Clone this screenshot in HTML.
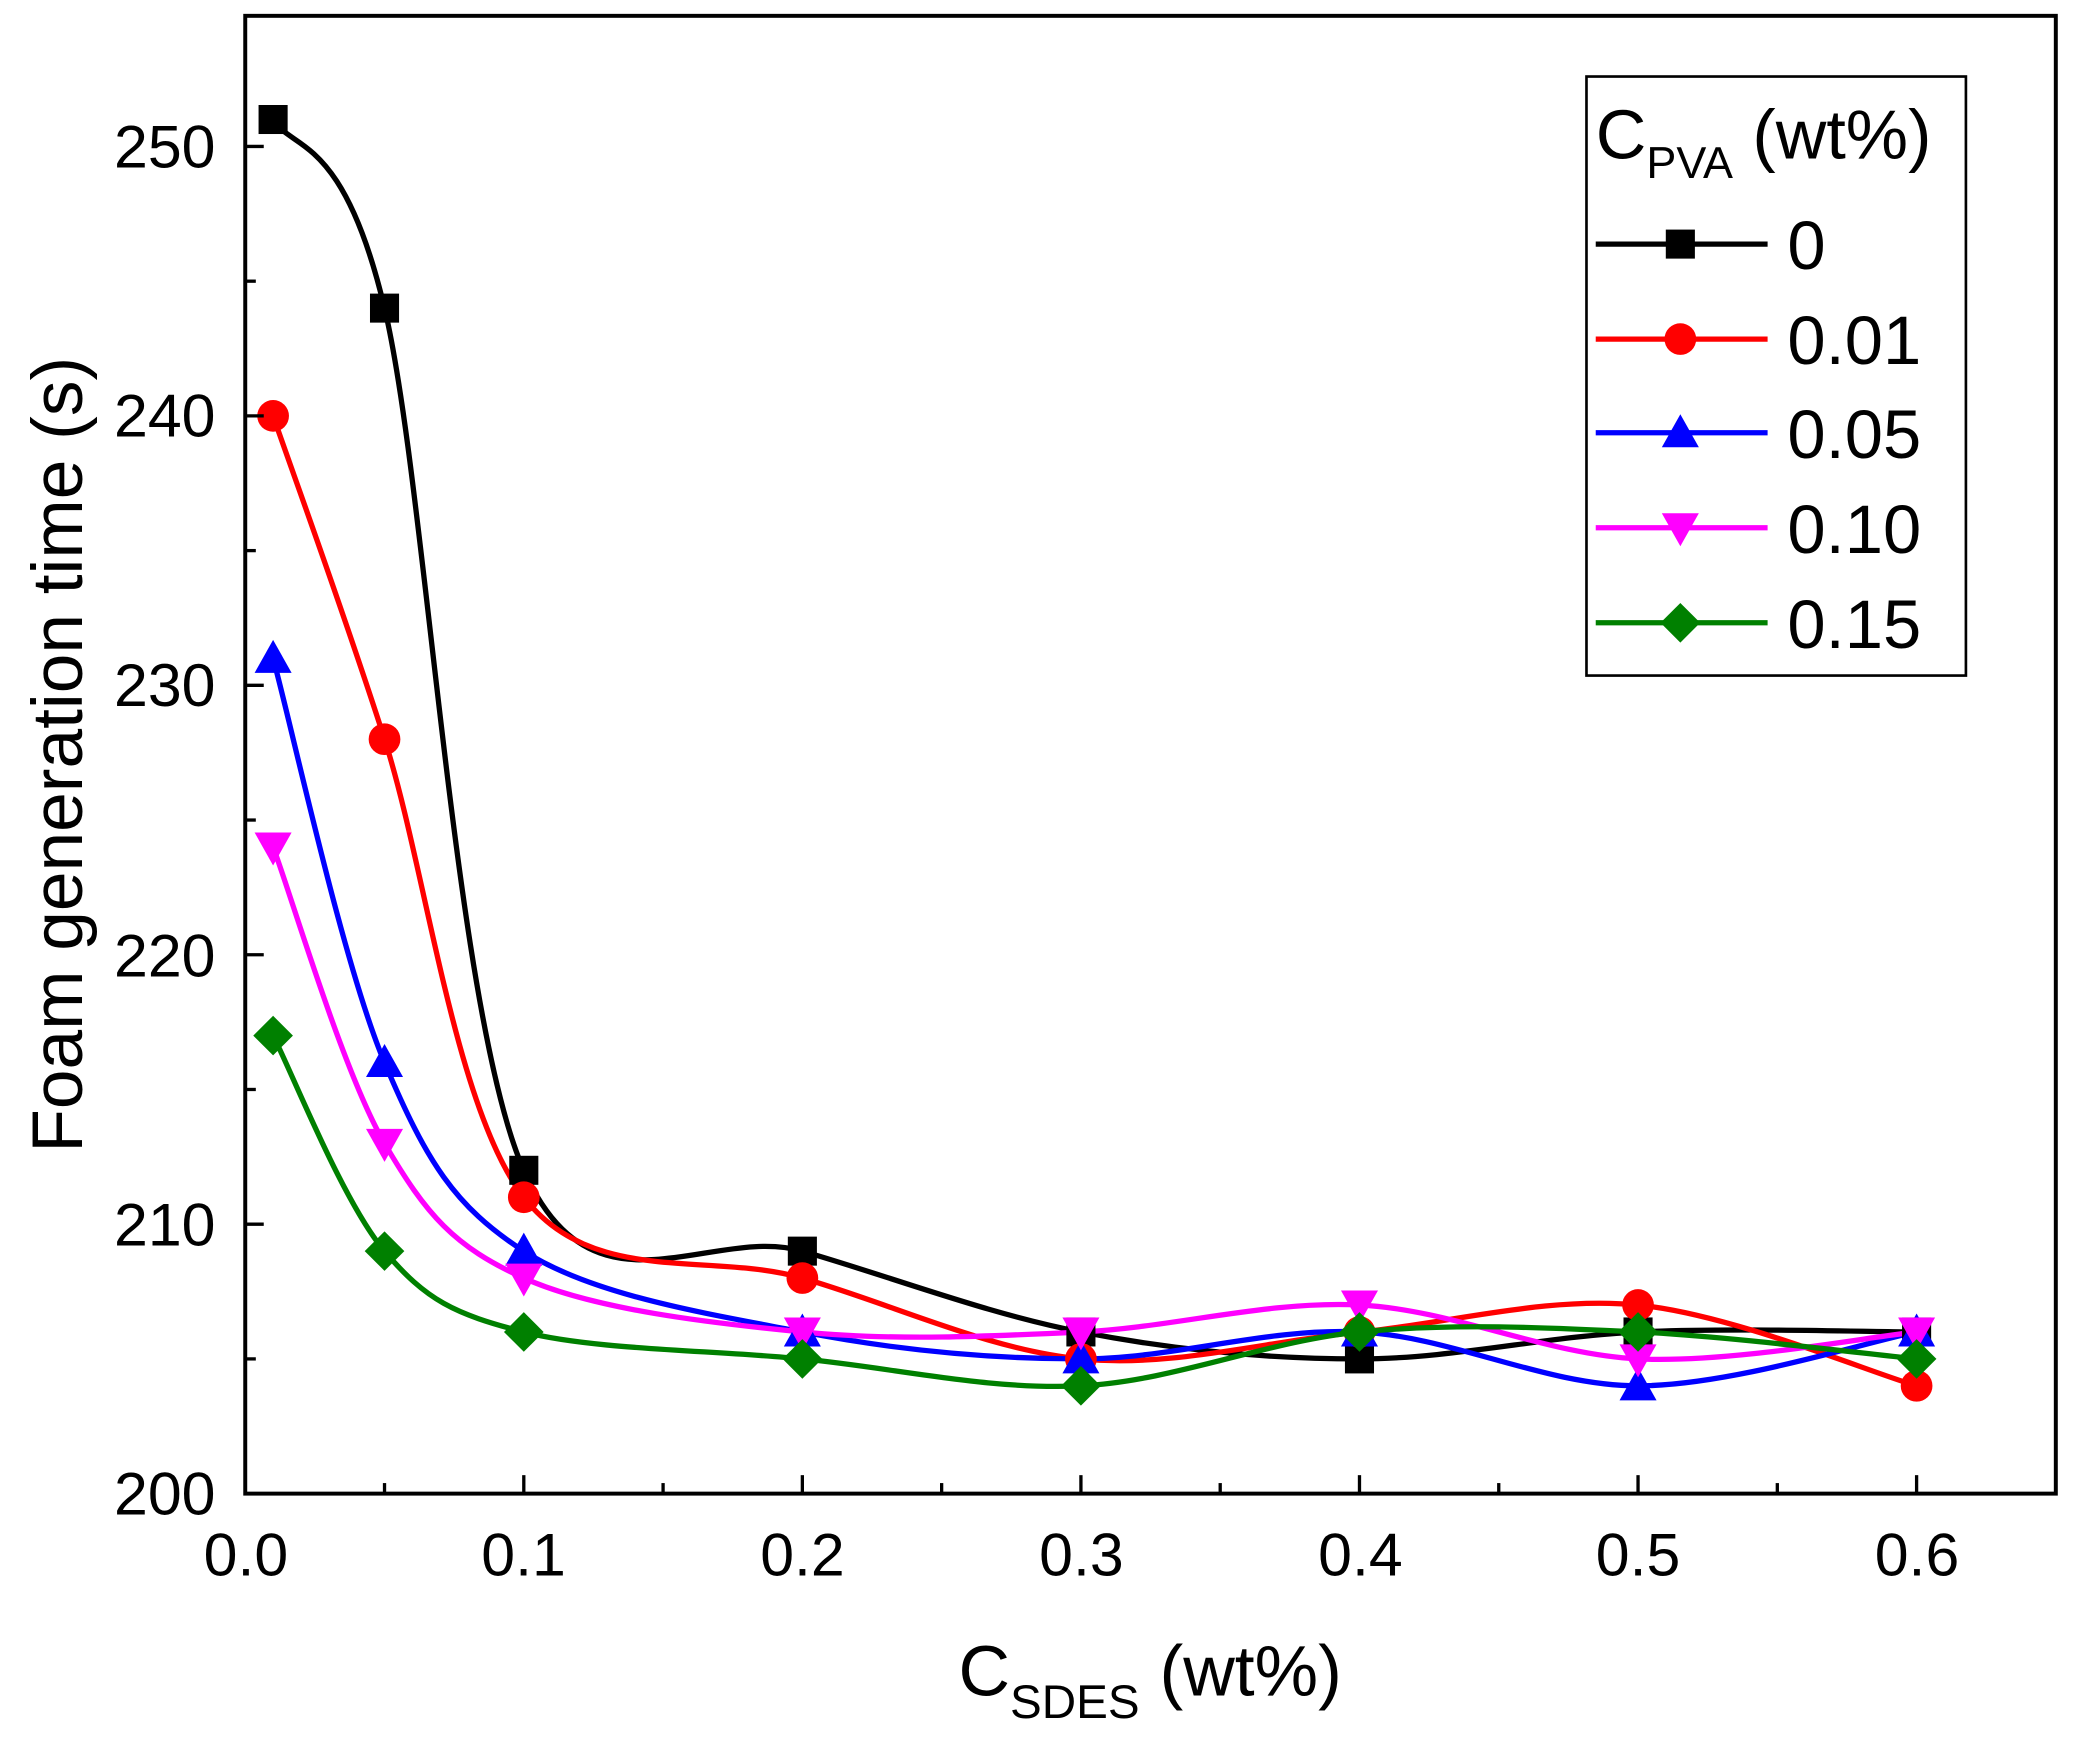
<!DOCTYPE html>
<html><head><meta charset="utf-8">
<style>html,body{margin:0;padding:0;background:#fff}svg{display:block}</style>
</head><body>
<svg id="c" width="2073" height="1743" viewBox="0 0 1568 1321" preserveAspectRatio="none" xmlns="http://www.w3.org/2000/svg" font-family="Liberation Sans, Arial, sans-serif">
<rect x="0" y="0" width="1568" height="1321" fill="#fff"/>
<g id="plot"></g>
<rect x="185.5" y="12" width="1369.5" height="1120" fill="none" stroke="#000" stroke-width="3"/>
<g id="ticks" stroke="#000" stroke-width="2.5"></g>
<g font-size="46" fill="#000" text-anchor="middle">
<text x="186" y="1194">0.0</text><text x="396" y="1194">0.1</text><text x="607" y="1194">0.2</text><text x="818" y="1194">0.3</text><text x="1029" y="1194">0.4</text><text x="1239" y="1194">0.5</text><text x="1450" y="1194">0.6</text>
</g>
<g font-size="46" fill="#000" text-anchor="end">
<text x="163" y="1148">200</text><text x="163" y="944">210</text><text x="163" y="740">220</text><text x="163" y="535">230</text><text x="163" y="331">240</text><text x="163" y="127">250</text>
</g>
<text transform="translate(62,572) rotate(-90)" font-size="54" text-anchor="middle">Foam generation time (s)</text>
<text x="870" y="1285" font-size="54" text-anchor="middle">C<tspan font-size="36" dy="17">SDES</tspan><tspan dy="-17"> (wt%)</tspan></text>
<rect x="1200" y="58" width="287" height="454" fill="#fff" stroke="#000" stroke-width="2"/>
<text x="1207" y="120" font-size="53">C<tspan font-size="34" dy="15">PVA</tspan><tspan dy="-15"> (wt%)</tspan></text>
<g id="legend"></g>
</svg>
<script>
const X=v=>185.5+v*2107, Y=v=>1132-(v-200)*20.42;
const xs=[0.01,0.05,0.1,0.2,0.3,0.4,0.5,0.6];
const S=[
 ["#000","sq",[251,244,212,209,206,205,206,206],"0"],
 ["#f00","ci",[240,228,211,208,205,206,207,204],"0.01"],
 ["#00f","tu",[231,216,209,206,205,206,204,206],"0.05"],
 ["#f0f","td",[224,213,208,206,206,207,205,206],"0.10"],
 ["#008000","di",[217,209,206,205,204,206,206,205],"0.15"]];
function mk(t,x,y,c){
 if(t=="sq")return `<rect x="${x-11}" y="${y-11}" width="22" height="22" fill="${c}"/>`;
 if(t=="ci")return `<circle cx="${x}" cy="${y}" r="12" fill="${c}"/>`;
 if(t=="tu")return `<polygon points="${x},${y-14} ${x-14},${y+11} ${x+14},${y+11}" fill="${c}"/>`;
 if(t=="td")return `<polygon points="${x},${y+14} ${x-14},${y-11} ${x+14},${y-11}" fill="${c}"/>`;
 return `<polygon points="${x},${y-15} ${x+15},${y} ${x},${y+15} ${x-15},${y}" fill="${c}"/>`;
}
let h="";
for(const [c,t,d] of S){
 const p=xs.map((v,i)=>[X(v),Y(d[i])]);
 let s=`M${p[0][0]},${p[0][1]}`;
 for(let i=0;i<p.length-1;i++){
  const p0=p[i-1]||p[i],p1=p[i],p2=p[i+1],p3=p[i+2]||p2;
  s+=` C${p1[0]+(p2[0]-p0[0])/6},${p1[1]+(p2[1]-p0[1])/6} ${p2[0]-(p3[0]-p1[0])/6},${p2[1]-(p3[1]-p1[1])/6} ${p2[0]},${p2[1]}`;
 }
 h+=`<path d="${s}" fill="none" stroke="${c}" stroke-width="4"/>`;
}
for(const [c,t,d] of S) xs.forEach((v,i)=>h+=mk(t,X(v),Y(d[i]),c));
document.getElementById("plot").innerHTML=h;
let k="";
for(let i=0;i<=13;i++){const x=185.5+i*105.35;if(x>1554)break;k+=`<line x1="${x}" y1="1132" x2="${x}" y2="${1132-(i%2?8:14)}"/>`;}
for(let i=0;i<=10;i++){const y=1132-i*102.1;k+=`<line x1="185.5" y1="${y}" x2="${185.5+(i%2?8:14)}" y2="${y}"/>`;}
document.getElementById("ticks").innerHTML=k;
let l="",ly=[185,257,328,400,472];
S.forEach((s,i)=>{l+=`<line x1="1207" y1="${ly[i]}" x2="1337" y2="${ly[i]}" stroke="${s[0]}" stroke-width="4"/>`+mk(s[1],1271,ly[i],s[0])+`<text x="1352" y="${ly[i]+19}" font-size="52">${s[3]}</text>`;});
document.getElementById("legend").innerHTML=l;
</script>
</body></html>
